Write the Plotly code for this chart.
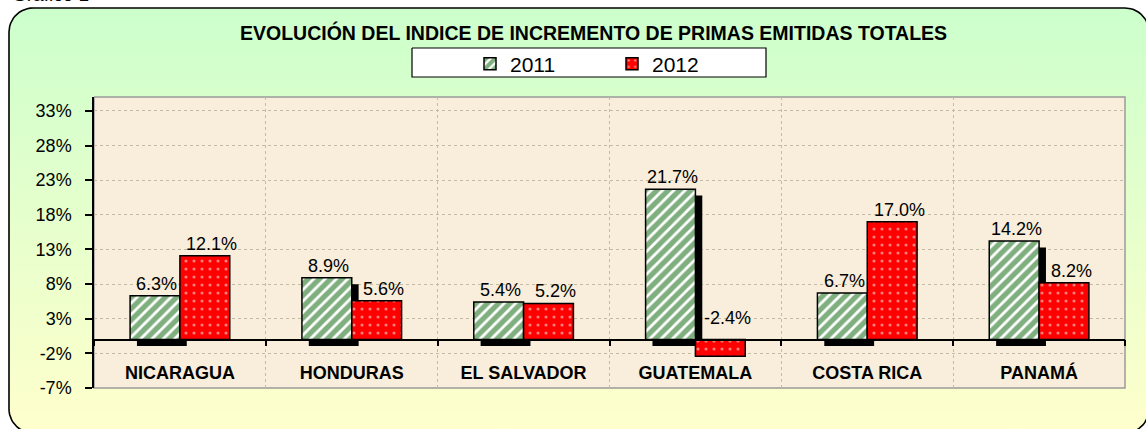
import numpy as np
import plotly.graph_objects as go

# ---------------- data ----------------
categories = ["NICARAGUA", "HONDURAS", "EL SALVADOR", "GUATEMALA", "COSTA RICA", "PANAMÁ"]
series_names = ["2011", "2012"]
values_2011 = [6.3, 8.9, 5.4, 21.7, 6.7, 14.2]
values_2012 = [12.1, 5.6, 5.2, -2.4, 17.0, 8.2]
y_tick_values = [-7, -2, 3, 8, 13, 18, 23, 28, 33]
y_tick_labels = ["-7%", "-2%", "3%", "8%", "13%", "18%", "23%", "28%", "33%"]
title_text = "EVOLUCIÓN DEL INDICE DE INCREMENTO DE PRIMAS EMITIDAS TOTALES"
caption_text = "Gráfico 1"

# ---------------- layout geometry (px) ----------------
W, H = 1146, 429
PL, PR, PT, PB = 94, 1125, 97, 388
YMIN, YMAX = -7, 35
FONT = "Liberation Sans, Arial, sans-serif"


def px_x(p):
    return p / W


def px_y(p):
    return (H - p) / H


x_dom = [PL / W, PR / W]
y_dom = [(H - PB) / H, (H - PT) / H]
zero_pos = y_dom[0] + (0 - YMIN) / (YMAX - YMIN) * (y_dom[1] - y_dom[0])


def rounded_rect(x0, y0, x1, y1, r, n=14):
    pts = []
    corners = [(x1 - r, y0 + r, -90, 0), (x1 - r, y1 - r, 0, 90),
               (x0 + r, y1 - r, 90, 180), (x0 + r, y0 + r, 180, 270)]
    for cx, cy, a0, a1 in corners:
        for a in np.linspace(np.radians(a0), np.radians(a1), n):
            pts.append((cx + r * np.cos(a), cy + r * np.sin(a)))
    pts.append(pts[0])
    return [p[0] for p in pts], [H - p[1] for p in pts]


def rect(x0, y0, x1, y1):
    return [x0, x1, x1, x0, x0], [H - y0, H - y0, H - y1, H - y1, H - y0]


fig = go.Figure()

# background decorations on full-figure pixel axes
bx, by = rounded_rect(9, 8, 1149, 433, 24)
fig.add_trace(go.Scatter(x=bx, y=by, mode="lines", fill="toself",
                         fillgradient=dict(type="vertical",
                                           colorscale=[[0, "#ffffcc"], [1, "#ccffcc"]]),
                         line=dict(color="black", width=1.6),
                         hoverinfo="skip", showlegend=False, xaxis="x", yaxis="y"))
rx, ry = rect(PL, PT, PR, PB)
fig.add_trace(go.Scatter(x=rx, y=ry, mode="lines", fill="toself", fillcolor="#f8eedb",
                         line=dict(color="#9a9a9a", width=1.5),
                         hoverinfo="skip", showlegend=False, xaxis="x", yaxis="y"))
lx, ly = rect(412, 48, 766, 77)
fig.add_trace(go.Scatter(x=lx, y=ly, mode="lines", fill="toself", fillcolor="white",
                         line=dict(color="black", width=1.2),
                         hoverinfo="skip", showlegend=False, xaxis="x", yaxis="y"))

BW = 0.29
SDX, SDY = 0.04, 0.93
# shadow of 2011 bars
fig.add_trace(go.Bar(x=categories, y=values_2011, base=-SDY, offset=-BW + SDX, width=BW,
                     marker=dict(color="black", line=dict(width=0)),
                     hoverinfo="skip", showlegend=False, xaxis="x2", yaxis="y2"))
fig.add_trace(go.Bar(x=categories, y=values_2011, name=series_names[0], offset=-BW, width=BW,
                     marker=dict(color="white",
                                 pattern=dict(shape="/", fgcolor="#006000", bgcolor="white",
                                              size=8, solidity=0.65),
                                 line=dict(color="black", width=1.5)),
                     xaxis="x2", yaxis="y2"))
fig.add_trace(go.Bar(x=categories, y=values_2012, name=series_names[1], offset=0, width=BW,
                     marker=dict(color="#ff0000",
                                 pattern=dict(shape=".", fgcolor="white", bgcolor="#ff0000",
                                              size=8, solidity=0.12),
                                 line=dict(color="black", width=1.5)),
                     xaxis="x2", yaxis="y2"))

annotations = []
for vals, sh in ((values_2011, -23), (values_2012, 32)):
    for c, v in zip(categories, vals):
        annotations.append(dict(x=c, y=max(v, 0), xref="x2", yref="y2", xshift=sh,
                                yshift=0 if v >= 0 else 10, yanchor="bottom",
                                text=f"{v:.1f}%", showarrow=False,
                                font=dict(family=FONT, size=18, color="black")))
annotations.append(dict(x=px_x(593), y=px_y(32), xref="paper", yref="paper",
                        xanchor="center", yanchor="middle", showarrow=False,
                        text=f"<b>{title_text}</b>",
                        font=dict(family=FONT, size=19.5, color="black")))
annotations.append(dict(x=px_x(10), y=px_y(7), xref="paper", yref="paper",
                        xanchor="left", yanchor="bottom", showarrow=False,
                        text=caption_text, font=dict(family=FONT, size=19, color="black")))

grid_col = "#c4bba4"
fig.update_layout(
    width=W, height=H, autosize=False,
    margin=dict(l=0, r=0, t=0, b=0, pad=0, autoexpand=False),
    paper_bgcolor="white", plot_bgcolor="rgba(0,0,0,0)",
    barmode="overlay",
    font=dict(family=FONT, color="black"),
    xaxis=dict(domain=[0, 1], range=[0, W], visible=False, fixedrange=True),
    yaxis=dict(domain=[0, 1], range=[0, H], visible=False, fixedrange=True),
    xaxis2=dict(domain=x_dom, anchor="free", position=zero_pos, type="category",
                range=[-0.5, 5.5], tickson="boundaries", ticks="outside", ticklen=6,
                tickwidth=1.5, tickcolor="black", showline=True, linecolor="black",
                linewidth=1.5, showgrid=True, gridcolor=grid_col, griddash="dot",
                gridwidth=1, tickfont=dict(family=FONT, size=18, weight="bold"),
                ticklabelstandoff=17, automargin=False),
    yaxis2=dict(domain=y_dom, anchor="x2", range=[YMIN, YMAX], tickvals=y_tick_values,
                ticktext=y_tick_labels, ticks="outside", ticklen=7, tickwidth=1.5,
                tickcolor="black", showline=True, linecolor="black", linewidth=1.5,
                showgrid=True, gridcolor=grid_col, griddash="dot", gridwidth=1,
                zeroline=False, tickfont=dict(family=FONT, size=18),
                ticklabelstandoff=10, automargin=False),
    legend=dict(orientation="h", x=px_x(470), xanchor="left", y=px_y(64), yanchor="middle",
                bgcolor="rgba(0,0,0,0)", font=dict(family=FONT, size=21),
                entrywidth=97, entrywidthmode="pixels", traceorder="normal"),
    annotations=annotations,
    showlegend=True,
)

post = ("var d=document.getElementById('{plot_id}');"
        "d.style.position='fixed';d.style.left='0px';d.style.top='0px';"
        "document.body.style.margin='0px';"
        "document.documentElement.style.overflow='hidden';document.body.style.overflow='hidden';")
fig.write_html("out.html", config={"displayModeBar": False}, post_script=post)
